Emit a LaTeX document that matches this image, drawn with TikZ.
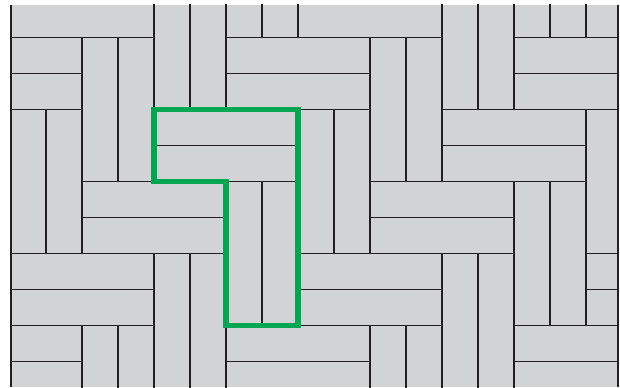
\documentclass[tikz,border=0pt]{standalone}
\definecolor{brickgray}{HTML}{D1D3D4}
\definecolor{jointline}{HTML}{231F20}
\definecolor{markgreen}{HTML}{00A651}
\tikzset{
  brick/.style={draw=jointline, line width=0.9pt},
  edgeline/.style={draw=jointline, line width=1pt},
  outline/.style={draw=markgreen, line width=4.4pt, line join=miter},
}
\begin{document}
\begin{tikzpicture}[x=1cm,y=1cm]
  % page extent = 620 x 387 px with 1 unit = 36 px
  \useasboundingbox (-0.2778,0.047) rectangle (16.944,-10.703);
  % paved area
  \fill[brickgray] (0.03,-0.092) rectangle (16.89,-10.703);
  \begin{scope}
    \clip (0.03,-0.092) rectangle (16.89,-10.703);
    \foreach \i in {-3,...,3}{
      \foreach \j in {-2,...,3}{
        \pgfmathsetmacro\ox{8*\i+4*\j}
        \pgfmathsetmacro\oy{-4*\j}
        \begin{scope}[shift={(\ox,\oy)}]
          % horizontal pair
          \draw[brick] (0,1) rectangle (4,0);
          \draw[brick] (0,0) rectangle (4,-1);
          % horizontal pair
          \draw[brick] (-2,-1) rectangle (2,-2);
          \draw[brick] (-2,-2) rectangle (2,-3);
          % vertical pair
          \draw[brick] (2,-1) rectangle (3,-5);
          \draw[brick] (3,-1) rectangle (4,-5);
          % vertical pair
          \draw[brick] (4,1) rectangle (5,-3);
          \draw[brick] (5,1) rectangle (6,-3);
        \end{scope}
      }
    }
  \end{scope}
  % side edges
  \coordinate (tl) at (0.03,-0.092);
  \coordinate (bl) at (0.03,-10.703);
  \coordinate (tr) at (16.89,-0.092);
  \coordinate (br) at (16.89,-10.703);
  \draw[edgeline] (tl) -- (bl);
  \draw[edgeline] (tr) -- (br);
  % highlighted group
  \draw[outline] (4,-3) -- (8,-3) -- (8,-9) -- (6,-9) -- (6,-5) -- (4,-5) -- cycle;
\end{tikzpicture}
\end{document}
